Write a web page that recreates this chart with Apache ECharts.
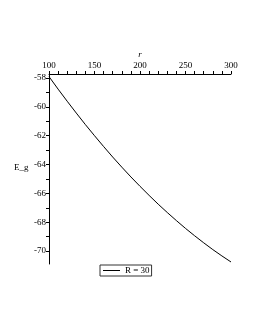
<!DOCTYPE html>
<html><head><meta charset="utf-8">
<script src="https://cdn.jsdelivr.net/npm/echarts@6/dist/echarts.min.js"></script>
<style>html,body{margin:0;padding:0;background:#fff}#c{width:255px;height:330px}</style>
</head><body><div id="c"></div>
<script>
const rValues = [100,110,120,130,140,150,160,170,180,190,200,210,220,230,240,250,260,270,280,290,300];
const egValues = [-57.90,-58.77,-59.61,-60.43,-61.23,-62.00,-62.75,-63.48,-64.18,-64.86,-65.51,-66.14,-66.75,-67.33,-67.89,-68.43,-68.94,-69.43,-69.90,-70.34,-70.76];
const xLabels = [100,150,200,250,300];
const xTicks = [100,110,120,130,140,150,160,170,180,190,200,210,220,230,240,250,260,270,280,290,300];
const yLabels = [-70,-68,-66,-64,-62,-60,-58];
const yTicks = [-70,-69,-68,-67,-66,-65,-64,-63,-62,-61,-60,-59,-58];
const seriesName = 'R = 30';
const yName = 'E_g';

const font = '"Liberation Serif", "DejaVu Serif", serif';
const chart = echarts.init(document.getElementById('c'));
chart.setOption({
  animation: false,
  backgroundColor: '#fff',
  grid: {left: 49, right: 24, top: 74, bottom: 66},
  legend: {
    left: 100, top: 265, padding: [1, 2, 1, 3],
    borderColor: '#333', borderWidth: 1,
    icon: 'rect', itemWidth: 17, itemHeight: 1, itemGap: 3,
    textStyle: {fontFamily: font, fontSize: 9, color: '#000'},
    data: [seriesName]
  },
  graphic: [{
    type: 'text', left: 14, top: 163,
    style: {text: yName, fontFamily: font, fontSize: 9, fill: '#000'}
  }],
  xAxis: {
    type: 'value', position: 'top', min: 100, max: 300,
    name: 'r', nameLocation: 'middle', nameGap: 15, nameMoveOverlap: false,
    nameTextStyle: {fontFamily: font, fontSize: 9, fontStyle: 'italic', color: '#000'},
    axisLine: {lineStyle: {color: '#000', width: 1}},
    axisTick: {customValues: xTicks, length: 3, lineStyle: {color: '#000'}},
    axisLabel: {customValues: xLabels, fontFamily: font, fontSize: 9, color: '#000', margin: 4},
    splitLine: {show: false}
  },
  yAxis: {
    type: 'value', min: -70.9, max: -57.72,
    axisLine: {onZero: false, lineStyle: {color: '#000', width: 1}},
    axisTick: {customValues: yTicks, length: 3, lineStyle: {color: '#000'}},
    axisLabel: {customValues: yLabels, fontFamily: font, fontSize: 9, color: '#000', margin: 3},
    splitLine: {show: false}
  },
  series: [{
    name: seriesName, type: 'line', symbol: 'none', showSymbol: false,
    lineStyle: {color: '#000', width: 1}, itemStyle: {color: '#000'},
    data: rValues.map((r, i) => [r, egValues[i]])
  }]
});
</script></body></html>
